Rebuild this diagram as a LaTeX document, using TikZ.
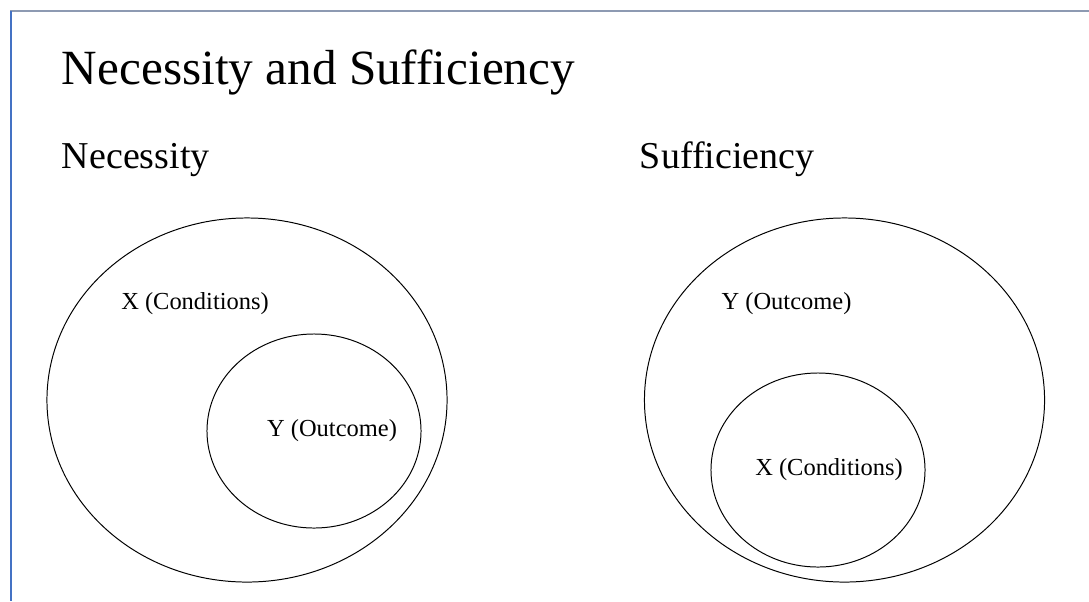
\documentclass[tikz,border=0pt]{standalone}
\usepackage{fontspec}
\setmainfont{Liberation Serif}
\usetikzlibrary{shapes.geometric}
\definecolor{framegrey}{RGB}{141,154,178}
\definecolor{frameblue}{RGB}{68,114,196}

\begin{document}
\begin{tikzpicture}[x=0.025cm,y=-0.025cm,
  bigset/.style={draw, ellipse, line width=0.7pt, inner sep=0pt, minimum width=10cm, minimum height=9.1cm},
  smallset/.style={draw, ellipse, line width=0.7pt, inner sep=0pt, minimum width=5.35cm, minimum height=4.85cm},
  setlabel/.style={font=\fontsize{17.4}{20}\selectfont},
  heading/.style={anchor=base west, font=\fontsize{27}{32}\selectfont}]
\useasboundingbox (0,0) rectangle (1089,601);
\draw [line width=1pt, framegrey] (10,11)--(1089,11);
\draw [line width=1pt, frameblue] (11,11)--(11,601);

\node [anchor=base west, font=\fontsize{35}{42}\selectfont] (title) at (57,84) {Necessity and Sufficiency};
\node [heading] (nec) at (57,168) {Necessity};
\node [heading] (suf) at (635,168) {Sufficiency};

% necessity
\node [bigset] (necX) at (247,400) {};
\node [smallset] (necY) at (314,431) {};
\node [setlabel] (necXlab) at (195,304) {X (Conditions)};
\node [setlabel] (necYlab) at (332,431) {Y (Outcome)};

% sufficiency
\node [bigset] (sufY) at (844.5,400) {};
\node [smallset] (sufX) at (818,470) {};
\node [setlabel] (sufYlab) at (786.5,304) {Y (Outcome)};
\node [setlabel] (sufXlab) at (829,470) {X (Conditions)};
\end{tikzpicture}
\end{document}
